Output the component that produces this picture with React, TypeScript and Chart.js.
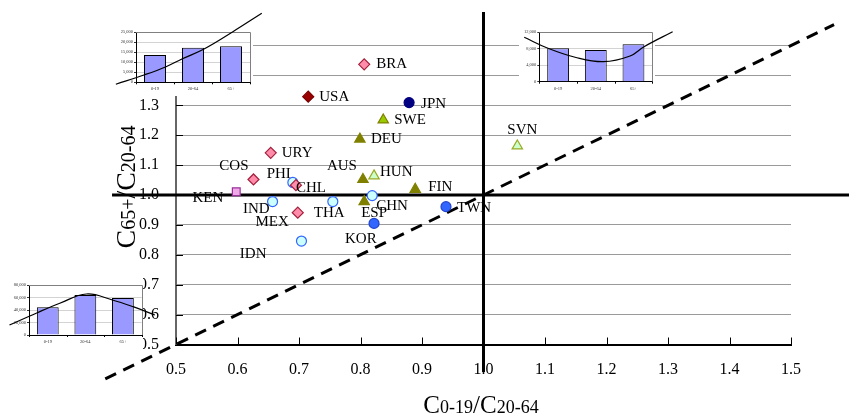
import React, { useEffect, useRef } from 'react';
import { Chart, registerables } from 'chart.js';
Chart.register(...registerables);

// ---------- main scatter data ----------
const countries = ['BRA', 'USA', 'JPN', 'SWE', 'DEU', 'URY', 'COS', 'PHI', 'CHL', 'KEN', 'AUS', 'HUN', 'FIN', 'SVN', 'IND', 'MEX', 'THA', 'CHN', 'ESP', 'TWN', 'KOR', 'IDN'];
const youthRatio = [0.806, 0.715, 0.879, 0.837, 0.799, 0.654, 0.626, 0.690, 0.695, 0.598, 0.804, 0.822, 0.889, 1.055, 0.657, 0.698, 0.755, 0.819, 0.806, 0.939, 0.822, 0.704];
const elderRatio = [1.437, 1.329, 1.309, 1.251, 1.187, 1.141, 1.052, 1.042, 1.033, 1.011, 1.052, 1.064, 1.019, 1.164, 0.978, 0.941, 0.978, 0.998, 0.978, 0.961, 0.905, 0.846];
const groups = ['latin', 'usa', 'japan', 'sweden', 'olive', 'latin', 'latin', 'asiaLight', 'latin', 'kenya', 'olive', 'paleGreen', 'olive', 'paleGreen', 'asiaLight', 'latin', 'asiaLight', 'asiaLight', 'olive', 'asiaBlue', 'asiaBlue', 'asiaLight'];

// reference lines (data units)
const unityHorizontalExtent = [0.396, 1.6];
const unityVerticalExtent = [0.408, 1.612];
const diagonalExtent = [0.385, 1.57];
const axisTicks = [0.5, 0.6, 0.7, 0.8, 0.9, 1.0, 1.1, 1.2, 1.3, 1.4, 1.5];

// ---------- inset bar data ----------
const ageGroups = ['0-19', '20-64', '65+'];
const ageIndex = [0, 1, 2];
const ageBoundaries = [-0.5, 0.5, 1.5, 2.5];
const inset1Values = [13650, 17300, 18000];
const inset2Values = [8110, 7700, 9080];
const inset3Values = [44300, 64000, 59200];
const curve1X = [-1.03, -0.29, 0.29, 0.71, 1.29, 2.05, 2.81];
const curve1Y = [-1000, 3650, 7800, 11650, 16650, 25300, 34500];
const curve2X = [-0.90, -0.27, 0.45, 1.20, 1.91, 2.28, 3.04];
const curve2Y = [10785, 8110, 5930, 4860, 6240, 8500, 12145];
const curve3X = [-1.02, -0.28, 0.32, 1.03, 1.72, 2.27, 2.85];
const curve3Y = [16000, 35700, 50700, 65600, 56000, 45300, 32000];

// ---------- styles ----------
const SERIF = "'Liberation Serif', 'DejaVu Serif', serif";
const groupStyles: any = {
  latin: { pointStyle: 'rectRot', radius: 5.5, bg: '#FF8CAA', border: '#A3203C' },
  usa: { pointStyle: 'rectRot', radius: 5.5, bg: '#990000', border: '#7A0000' },
  japan: { pointStyle: 'circle', radius: 5, bg: '#000080', border: '#000080' },
  sweden: { pointStyle: 'triangle', radius: 6, bg: '#99CC00', border: '#808000' },
  olive: { pointStyle: 'triangle', radius: 6, bg: '#808000', border: '#808000' },
  paleGreen: { pointStyle: 'triangle', radius: 6, bg: '#CCFFCC', border: '#99AA22' },
  asiaLight: { pointStyle: 'circle', radius: 5, bg: '#CCFFFF', border: '#3366FF' },
  asiaBlue: { pointStyle: 'circle', radius: 5, bg: '#3366FF', border: '#2244CC' },
  kenya: { pointStyle: 'rect', radius: 5.5, bg: '#F0A8E8', border: '#993399' },
};
const labelOffsets: any = {
  BRA: [12, 0, 'left'], USA: [11, 0, 'left'], JPN: [12, 1, 'left'], SWE: [11, 0, 'left'], DEU: [11, 0, 'left'],
  AUS: [-6, -13, 'right'], HUN: [6, -4, 'left'], FIN: [13, -2, 'left'], SVN: [5, -16, 'center'],
  CHN: [4, 10, 'left'], ESP: [-3, 11, 'left'], TWN: [11, 1, 'left'], KOR: [-29, 16, 'left'], THA: [-19, 11, 'left'],
  KEN: [-13, 6, 'right'], IND: [-3, 7, 'right'], MEX: [-9, 9, 'right'], IDN: [-35, 13, 'right'], CHL: [0, 3, 'left'],
  PHI: [-2, -8, 'right'], COS: [-5, -13, 'right'], URY: [11, 0, 'left'],
};

const W = 849;
const H = 419;

function drawMixed(ctx: any, parts: any[], x: number, y: number) {
  let total = 0;
  const widths = parts.map((p) => {
    ctx.font = `${p.size}px ${SERIF}`;
    const w = ctx.measureText(p.t).width;
    total += w;
    return w;
  });
  let cx = x - total / 2;
  ctx.textBaseline = 'alphabetic';
  ctx.textAlign = 'left';
  parts.forEach((p, i) => {
    ctx.font = `${p.size}px ${SERIF}`;
    ctx.fillText(p.t, cx, y);
    cx += widths[i];
  });
}

const mainPlugin = {
  id: 'mainDecor',
  beforeDatasetsDraw(chart: any) {
    const { ctx, chartArea, scales } = chart;
    ctx.save();
    ctx.strokeStyle = '#000';
    ctx.lineWidth = 1;
    axisTicks.forEach((v) => {
      const px = Math.round(scales.x.getPixelForValue(v)) + 0.5;
      ctx.beginPath();
      ctx.moveTo(px, chartArea.bottom);
      ctx.lineTo(px, chartArea.bottom - 7);
      ctx.stroke();
      const py = Math.round(scales.y.getPixelForValue(v)) + 0.5;
      ctx.beginPath();
      ctx.moveTo(chartArea.left, py);
      ctx.lineTo(chartArea.left + 7, py);
      ctx.stroke();
    });
    ctx.restore();
  },
  afterDatasetsDraw(chart: any) {
    const { ctx } = chart;
    ctx.save();
    ctx.fillStyle = '#000';
    ctx.font = `15px ${SERIF}`;
    ctx.textBaseline = 'middle';
    chart.data.datasets.forEach((ds: any, di: number) => {
      if (!ds.isCountry) return;
      const meta = chart.getDatasetMeta(di);
      meta.data.forEach((el: any, i: number) => {
        const name = ds.data[i].name;
        const off = labelOffsets[name] || [10, 0, 'left'];
        ctx.textAlign = off[2];
        ctx.fillText(name, el.x + off[0], el.y + off[1]);
      });
    });
    ctx.restore();
  },
  afterDraw(chart: any) {
    const { ctx, chartArea } = chart;
    ctx.save();
    ctx.fillStyle = '#000';
    const cx = (chartArea.left + chartArea.right) / 2 - 2.5;
    drawMixed(ctx, [
      { t: 'C', size: 25 }, { t: '0-19', size: 18 }, { t: '/', size: 25 }, { t: 'C', size: 25 }, { t: '20-64', size: 18 },
    ], cx, 413);
    ctx.translate(135, 187);
    ctx.rotate(-Math.PI / 2);
    drawMixed(ctx, [
      { t: 'C', size: 28 }, { t: '65+', size: 20 }, { t: '/', size: 28 }, { t: 'C', size: 28 }, { t: '20-64', size: 20 },
    ], 0, 0);
    ctx.restore();
  },
};

const insetLayouts = [
  { canvas: { x: 100, y: 0, w: 170, h: 100 }, bg: { x: 108, y: 24, w: 145, h: 72 }, frame: { l: 136, t: 32.3, r: 250, b: 82.3 }, max: 25000, step: 5000, values: inset1Values, cx: curve1X, cy: curve1Y },
  { canvas: { x: 505, y: 0, w: 175, h: 100 }, bg: { x: 519, y: 24, w: 136, h: 71 }, frame: { l: 539.3, t: 32.3, r: 652.3, b: 81.7 }, max: 12000, step: 2000, values: inset2Values, cx: curve2X, cy: curve2Y },
  { canvas: { x: 0, y: 268, w: 165, h: 87 }, bg: { x: 0, y: 278, w: 143, h: 72 }, frame: { l: 29, t: 285, r: 141.7, b: 335 }, max: 80000, step: 20000, values: inset3Values, cx: curve3X, cy: curve3Y },
];

function Inset({ spec }: any) {
  const ref = useRef<HTMLCanvasElement>(null);
  useEffect(() => {
    const s = spec;
    const c = s.canvas;
    const f = s.frame;
    const decor = {
      id: 'insetDecor',
      beforeDraw(chart: any) {
        const ctx = chart.ctx;
        ctx.save();
        ctx.fillStyle = '#fff';
        ctx.fillRect(s.bg.x - c.x, s.bg.y - c.y, s.bg.w, s.bg.h);
        ctx.restore();
      },
      beforeDatasetsDraw(chart: any) {
        const { ctx, chartArea, scales } = chart;
        ctx.save();
        ctx.strokeStyle = '#808080';
        ctx.lineWidth = 1;
        ctx.beginPath();
        ctx.moveTo(chartArea.left, Math.round(chartArea.top) + 0.5);
        ctx.lineTo(Math.round(chartArea.right) + 0.5, Math.round(chartArea.top) + 0.5);
        ctx.lineTo(Math.round(chartArea.right) + 0.5, chartArea.bottom);
        ctx.stroke();
        ctx.strokeStyle = '#000';
        ageBoundaries.forEach((v) => {
          const px = Math.round(scales.x.getPixelForValue(v)) + 0.5;
          ctx.beginPath();
          ctx.moveTo(px, chartArea.bottom);
          ctx.lineTo(px, chartArea.bottom + 2);
          ctx.stroke();
        });
        ctx.restore();
      },
    };
    const chart = new Chart(ref.current as any, {
      type: 'bar',
      data: {
        datasets: [
          {
            type: 'line',
            data: s.cx.map((x: number, i: number) => ({ x, y: s.cy[i] })),
            borderColor: '#000',
            borderWidth: 1.2,
            pointRadius: 0,
            tension: 0.4,
            clip: false,
            fill: false,
          } as any,
          {
            type: 'bar',
            data: ageIndex.map((x, i) => ({ x, y: s.values[i] })),
            backgroundColor: '#9999FF',
            borderColor: '#000',
            borderWidth: 1,
            barPercentage: 0.58,
            categoryPercentage: 1,
            grouped: false,
          } as any,
        ],
      },
      options: {
        responsive: false,
        animation: false,
        devicePixelRatio: 1,
        layout: { padding: { left: 0, top: f.t - c.y, right: c.x + c.w - f.r, bottom: 0 } },
        plugins: { legend: { display: false }, tooltip: { enabled: false } },
        scales: {
          x: {
            type: 'linear',
            min: -0.5,
            max: 2.5,
            offset: false,
            afterFit: (sc: any) => { sc.height = c.y + c.h - f.b; },
            afterBuildTicks: (sc: any) => { sc.ticks = ageIndex.map((v) => ({ value: v })); },
            grid: { display: true, drawOnChartArea: false, drawTicks: false, offset: false },
            border: { color: '#000', width: 1 },
            ticks: {
              font: { family: SERIF, size: 4.5 },
              color: '#333',
              padding: 4,
              maxRotation: 0,
              autoSkip: false,
              callback: (v: any) => ageGroups[Math.round(Number(v))] ?? '',
            },
          },
          y: {
            min: 0,
            max: s.max,
            afterFit: (sc: any) => { sc.width = f.l - c.x; },
            grid: { color: '#C8C8C8', lineWidth: 0.8, tickLength: 2, tickColor: '#000' },
            border: { color: '#000', width: 1 },
            ticks: {
              stepSize: s.step,
              font: { family: SERIF, size: 4.5 },
              color: '#333',
              padding: 1,
              callback: (v: any) => Number(v).toLocaleString('en-US'),
            },
          },
        },
      } as any,
      plugins: [decor],
    });
    return () => chart.destroy();
  }, []);
  const c = spec.canvas;
  return (
    <canvas
      ref={ref}
      width={c.w}
      height={c.h}
      style={{ position: 'absolute', left: c.x, top: c.y, width: c.w, height: c.h }}
    />
  );
}

export default function App() {
  const ref = useRef<HTMLCanvasElement>(null);
  useEffect(() => {
    const pointDatasets = Object.keys(groupStyles).map((g) => {
      const st = groupStyles[g];
      const idx = countries.map((_, i) => i).filter((i) => groups[i] === g);
      return {
        isCountry: true,
        label: g,
        data: idx.map((i) => ({ x: youthRatio[i], y: elderRatio[i], name: countries[i] })),
        pointStyle: st.pointStyle,
        pointRadius: st.radius,
        pointBackgroundColor: st.bg,
        pointBorderColor: st.border,
        pointBorderWidth: 1.2,
        showLine: false,
      };
    });
    const lineBase = { showLine: true, borderColor: '#000', pointRadius: 0, clip: false, fill: false };
    const chart = new Chart(ref.current as any, {
      type: 'scatter',
      data: {
        datasets: [
          ...pointDatasets,
          { ...lineBase, borderWidth: 3, data: [{ x: unityHorizontalExtent[0], y: 1 }, { x: unityHorizontalExtent[1], y: 1 }] },
          { ...lineBase, borderWidth: 3, data: [{ x: 1, y: unityVerticalExtent[0] }, { x: 1, y: unityVerticalExtent[1] }] },
          { ...lineBase, borderWidth: 3, borderDash: [12, 8], data: [{ x: diagonalExtent[0], y: diagonalExtent[0] }, { x: diagonalExtent[1], y: diagonalExtent[1] }] },
        ] as any,
      },
      options: {
        responsive: false,
        animation: false,
        devicePixelRatio: 1,
        layout: { padding: { left: 0, right: 58, top: 45.5, bottom: 0 } },
        plugins: { legend: { display: false }, tooltip: { enabled: false } },
        scales: {
          x: {
            type: 'linear',
            min: 0.5,
            max: 1.5,
            afterFit: (sc: any) => { sc.height = 74.5; },
            grid: { display: true, drawOnChartArea: false, drawTicks: false },
            border: { color: '#000', width: 2 },
            ticks: {
              stepSize: 0.1,
              autoSkip: false,
              maxRotation: 0,
              padding: 16,
              color: '#000',
              font: { family: SERIF, size: 16 },
              callback: (v: any) => Number(v).toFixed(1),
            },
          },
          y: {
            min: 0.5,
            max: 1.5,
            afterFit: (sc: any) => { sc.width = 176; },
            grid: { color: '#9A9A9A', lineWidth: 1, drawTicks: false },
            border: { color: '#666', width: 2 },
            ticks: {
              stepSize: 0.1,
              autoSkip: false,
              padding: 17,
              color: '#000',
              font: { family: SERIF, size: 16 },
              callback: (v: any) => Number(v).toFixed(1),
            },
          },
        },
      } as any,
      plugins: [mainPlugin],
    });
    return () => chart.destroy();
  }, []);
  return (
    <div style={{ position: 'absolute', left: 0, top: 0, width: W, height: H, background: '#fff', overflow: 'hidden' }}>
      <canvas ref={ref} width={W} height={H} style={{ position: 'absolute', left: 0, top: 0, width: W, height: H }} />
      {insetLayouts.map((s, i) => (
        <Inset key={i} spec={s} />
      ))}
    </div>
  );
}
